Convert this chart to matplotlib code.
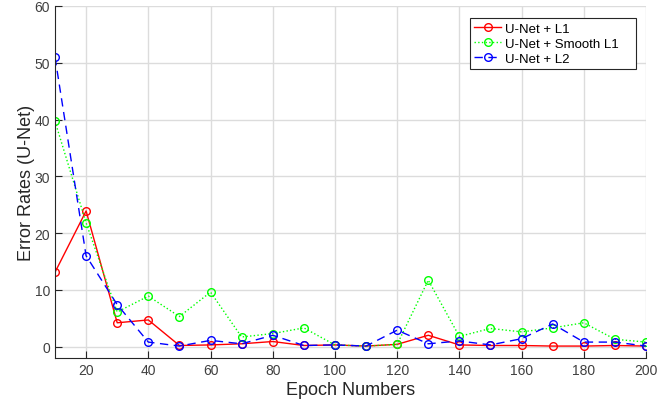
import numpy as np
import matplotlib.pyplot as plt
from matplotlib.patches import Rectangle

plt.rcParams['font.family'] = ['Liberation Sans', 'DejaVu Sans']

# Data
epochs = [10, 20, 30, 40, 50, 60, 70, 80, 90, 100,
          110, 120, 130, 140, 150, 160, 170, 180, 190, 200]
unet_l1 = [13.1, 23.9, 4.2, 4.7, 0.2, 0.3, 0.5, 0.9, 0.2, 0.3,
           0.1, 0.4, 2.0, 0.3, 0.2, 0.2, 0.1, 0.1, 0.2, 0.1]
unet_smooth_l1 = [39.7, 21.8, 6.1, 8.9, 5.3, 9.6, 1.7, 2.3, 3.3, 0.3,
                  0.1, 0.4, 11.7, 1.8, 3.2, 2.6, 3.3, 4.2, 1.3, 0.8]
unet_l2 = [51.0, 16.0, 7.4, 0.8, 0.1, 1.1, 0.5, 2.0, 0.2, 0.3,
           0.1, 2.9, 0.5, 1.0, 0.3, 1.4, 4.0, 0.8, 0.8, 0.1]

xticks = np.arange(20, 201, 20)
yticks = np.arange(0, 61, 10)

fig = plt.figure(figsize=(6.65, 4.02), dpi=100)
ax = fig.add_axes([0.0827, 0.107, 0.8887, 0.8756])

ax.plot(epochs, unet_l1, color='#ff0000', linestyle='-', linewidth=1,
        marker='o', markersize=5.5, markerfacecolor='none', label='U-Net + L1')
ax.plot(epochs, unet_smooth_l1, color='#00ff00', linestyle=':', linewidth=1,
        marker='o', markersize=5.5, markerfacecolor='none', label='U-Net + Smooth L1')
ax.plot(epochs, unet_l2, color='#0000ff', linestyle=(0, (6, 4)), linewidth=1,
        marker='o', markersize=5.5, markerfacecolor='none', label='U-Net + L2')

ax.set_xlim(10, 200)
ax.set_ylim(-2, 60)
ax.set_xticks(xticks)
ax.set_yticks(yticks)
ax.grid(True, color='#dcdcdc', linewidth=1)
ax.set_axisbelow(True)

for s in ['top', 'right']:
    ax.spines[s].set_visible(False)
for s in ['left', 'bottom']:
    ax.spines[s].set_color('#262626')
ax.tick_params(direction='in', length=5, colors='#262626', labelsize=10)
for lab in ax.get_xticklabels() + ax.get_yticklabels():
    lab.set_color('#404040')

ax.set_xlabel('Epoch Numbers', fontsize=13, color='#262626', labelpad=3)
ax.set_ylabel('Error Rates (U-Net)', fontsize=13, color='#262626', labelpad=0)

# legend box drawn separately (MATLAB style, extra room on the right)
box = Rectangle((0.702, 0.821), 0.281, 0.145, transform=ax.transAxes,
                facecolor='white', edgecolor='#262626', linewidth=0.8, zorder=4)
ax.add_patch(box)
leg = ax.legend(loc='upper left', bbox_to_anchor=(0.702, 0.966), fontsize=9.5,
                frameon=False, handlelength=2.0, handletextpad=0.3,
                borderpad=0.35, borderaxespad=0, labelspacing=0.2)
leg.set_zorder(5)

plt.savefig('out.png', dpi=100)
